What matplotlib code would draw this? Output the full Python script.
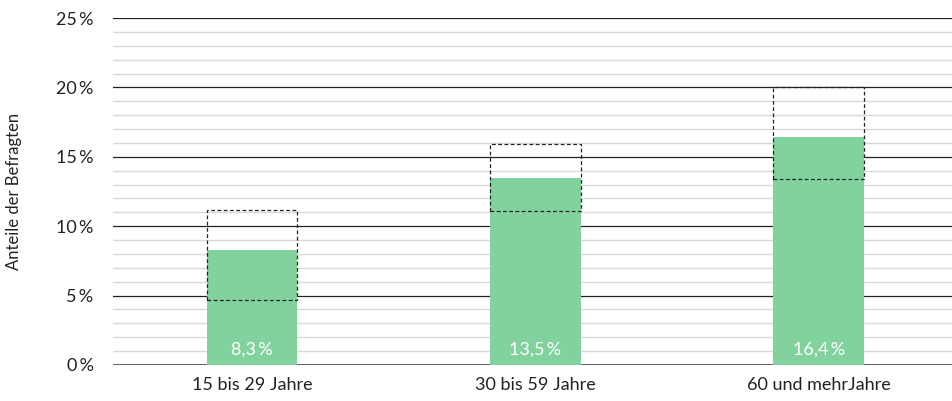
import matplotlib.pyplot as plt
import numpy as np

plt.rcParams['font.family'] = ['Lato', 'DejaVu Sans']

kategorien = ["15 bis 29 Jahre", "30 bis 59 Jahre", "60 und mehrJahre"]
anteile = [8.3, 13.5, 16.4]
ki_unten = [4.7, 11.1, 13.4]
ki_oben = [11.2, 15.9, 20.0]
labels = ["8,3\u2009%", "13,5\u2009%", "16,4\u2009%"]
yticks = [0, 5, 10, 15, 20, 25]
ytick_labels = ["0\u2009%", "5\u2009%", "10\u2009%", "15\u2009%", "20\u2009%", "25\u2009%"]

fig = plt.figure(figsize=(9.52, 4.01), dpi=100)
ax = fig.add_axes([0.1187, 0.0898, 0.8813, 0.8653])

x = np.arange(len(kategorien))
breite = 0.32

# Hilfslinien
for v in np.arange(0, 26, 1):
    if v == 0:
        ax.axhline(v, color="#444444", lw=1.2, zorder=1)
    elif v % 5 == 0:
        ax.axhline(v, color="#222222", lw=0.9, zorder=1)
    else:
        ax.axhline(v, color="#dcd9d2", lw=1.0, zorder=1)

ax.bar(x, anteile, width=breite, color="#82d29d", zorder=2)

# Konfidenzintervall als gestrichelte Box
for xi, lo, hi in zip(x, ki_unten, ki_oben):
    ax.bar(xi, hi - lo, bottom=lo, width=breite, fill=False,
           edgecolor="#222222", linestyle=(0, (3, 2)), lw=0.9, zorder=3)

for xi, lab in zip(x, labels):
    ax.text(xi, 1.1, lab, ha="center", va="center", color="white", fontsize=13, zorder=4)

ax.set_xlim(-0.49, 2.47)
ax.set_ylim(0, 25)
ax.set_xticks(x)
ax.set_xticklabels(kategorien, fontsize=13, color="#222222")
ax.set_yticks(yticks)
ax.set_yticklabels(ytick_labels, fontsize=13, color="#222222")
ax.tick_params(length=0, pad=9)
ax.tick_params(axis="y", pad=14)
for s in ax.spines.values():
    s.set_visible(False)

ax.set_ylabel("Anteile der Befragten", fontsize=12, color="#222222")
ax.yaxis.set_label_coords(-0.108, 0.5)

fig.savefig("out.png", dpi=100)
